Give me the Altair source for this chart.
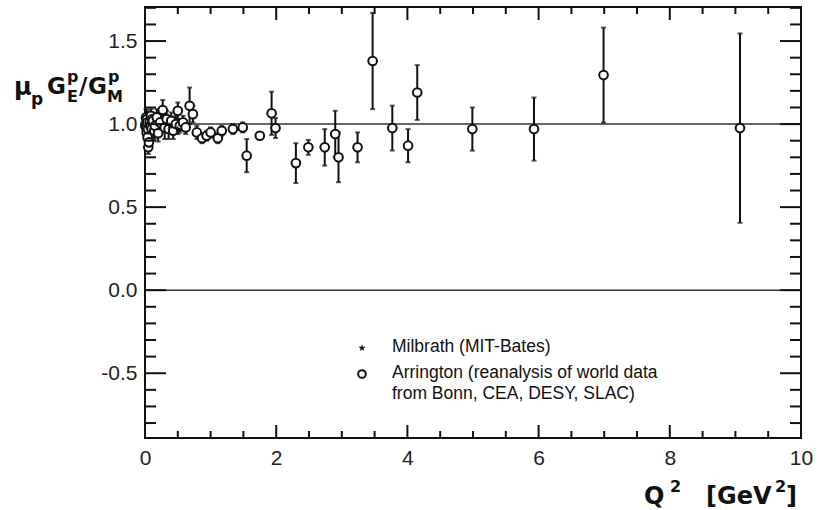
import altair as alt
import pandas as pd

# ---------------- data ----------------
# Arrington reanalysis (open circles): Q^2, ratio, error
arr_q2 = [0.005, 0.01, 0.015, 0.02, 0.025, 0.03, 0.035, 0.04, 0.045, 0.05, 0.06, 0.07,
          0.08, 0.09, 0.10, 0.11, 0.12, 0.14, 0.15, 0.18,
          0.20, 0.23, 0.27, 0.30, 0.33, 0.36, 0.40, 0.43, 0.47, 0.50, 0.53, 0.58,
          0.62, 0.68, 0.73, 0.79, 0.87, 0.94, 1.00, 1.11, 1.17, 1.34, 1.49, 1.55,
          1.75, 1.93, 1.99, 2.30, 2.49, 2.74, 2.90, 2.95, 3.24, 3.47, 3.77, 4.01,
          4.15, 4.99, 5.93, 6.99, 9.07]
arr_r = [0.99, 1.00, 1.04, 0.98, 0.95, 1.03, 1.01, 0.92, 0.97, 0.86, 0.89, 1.01,
         0.99, 1.05, 0.97, 1.03, 1.02, 0.96, 0.99, 1.04,
         0.945, 1.01, 1.085, 0.98, 1.03, 0.97, 1.02, 0.96, 1.00, 1.08, 0.99, 1.01,
         0.98, 1.11, 1.06, 0.95, 0.915, 0.93, 0.95, 0.915, 0.96, 0.97, 0.98, 0.81,
         0.93, 1.065, 0.976, 0.765, 0.86, 0.86, 0.94, 0.80, 0.86, 1.38, 0.976, 0.87,
         1.19, 0.97, 0.97, 1.295, 0.976]
arr_err = [0.04, 0.03, 0.05, 0.04, 0.06, 0.05, 0.04, 0.05, 0.04, 0.04, 0.04, 0.03,
           0.05, 0.04, 0.05, 0.04, 0.04, 0.05, 0.03, 0.05,
           0.05, 0.04, 0.06, 0.07, 0.05, 0.06, 0.05, 0.05, 0.05, 0.05, 0.04, 0.04,
           0.04, 0.11, 0.05, 0.04, 0.03, 0.03, 0.03, 0.03, 0.03, 0.03, 0.03, 0.10,
           0.02, 0.13, 0.06, 0.12, 0.045, 0.11, 0.14, 0.15, 0.09, 0.29, 0.135, 0.10,
           0.165, 0.13, 0.19, 0.286, 0.57]

# Milbrath (MIT-Bates) stars
mil_q2 = [0.38, 0.50]
mil_r = [0.99, 0.97]
mil_err = [0.03, 0.03]

# reference lines
ref_lines = [0.0, 1.0]

# axis ticks
x_major = [0, 2, 4, 6, 8, 10]
x_minor = [0.5, 1.0, 1.5, 2.5, 3.0, 3.5, 4.5, 5.0, 5.5, 6.5, 7.0, 7.5, 8.5, 9.0, 9.5]
y_major = [-0.5, 0.0, 0.5, 1.0, 1.5]
y_minor = [-0.8, -0.7, -0.6, -0.4, -0.3, -0.2, -0.1, 0.1, 0.2, 0.3, 0.4, 0.6, 0.7,
           0.8, 0.9, 1.1, 1.2, 1.3, 1.4, 1.6, 1.7]

# ---------------- layout ----------------
W, H = 656, 431
PL, PT = 145, 7

xs = alt.Scale(domain=[0, 10], nice=False, zero=False)
ys = alt.Scale(domain=[-0.89, 1.705], nice=False, zero=False)

arr = pd.DataFrame({"q2": arr_q2, "r": arr_r, "e": arr_err})
arr["lo"] = arr["r"] - arr["e"]
arr["hi"] = arr["r"] + arr["e"]
mil = pd.DataFrame({"q2": mil_q2, "r": mil_r, "e": mil_err})
mil["lo"] = mil["r"] - mil["e"]
mil["hi"] = mil["r"] + mil["e"]
allpts = pd.concat([arr, mil], ignore_index=True)

STAR = ("M0,-1L0.235,-0.324L0.951,-0.309L0.38,0.124L0.588,0.809L0,0.4L-0.588,0.809"
        "L-0.38,0.124L-0.951,-0.309L-0.235,-0.324Z")

TICKFONT = "Liberation Sans"
TITLEFONT = "DejaVu Sans"

xaxis = alt.Axis(values=x_major, ticks=False, domain=False, grid=False, labelFontSize=21,
                 labelFont=TICKFONT, labelColor="#222", labelPadding=9, title=None,
                 labelFlush=False, format="d")
yaxis = alt.Axis(values=y_major, ticks=False, domain=False, grid=False, labelFontSize=21,
                 labelFont=TICKFONT, labelColor="#222", labelPadding=8, title=None,
                 labelExpr="replace(format(datum.value, '.1f'), '\u2212', '-')")

hl = alt.Chart(pd.DataFrame({"y": ref_lines})).mark_rule(color="#333", strokeWidth=1.5).encode(
    y=alt.Y("y:Q", scale=ys, axis=yaxis), x=alt.value(0), x2=alt.value(W))

bars = alt.Chart(allpts).mark_rule(color="#111", strokeWidth=2).encode(
    x=alt.X("q2:Q", scale=xs, axis=xaxis),
    y=alt.Y("lo:Q", scale=ys),
    y2="hi:Q")

caps = alt.Chart(allpts).transform_fold(["lo", "hi"], as_=["k", "v"]).mark_tick(
    color="#111", orient="horizontal", size=5, thickness=2).encode(
    x=alt.X("q2:Q", scale=xs), y=alt.Y("v:Q", scale=ys))

circ = alt.Chart(arr).mark_point(shape="circle", filled=True, fill="white", stroke="#111",
                                 strokeWidth=2, size=75, opacity=1).encode(
    x=alt.X("q2:Q", scale=xs), y=alt.Y("r:Q", scale=ys))

stars = alt.Chart(mil).mark_point(shape=STAR, filled=True, color="#111", size=60, opacity=1).encode(
    x=alt.X("q2:Q", scale=xs), y=alt.Y("r:Q", scale=ys))


def yticks(vals, x0, x1):
    return alt.Chart(pd.DataFrame({"v": vals})).mark_rule(color="#111", strokeWidth=2).encode(
        y=alt.Y("v:Q", scale=ys), x=alt.value(x0), x2=alt.value(x1))


def xticks(vals, y0, y1):
    return alt.Chart(pd.DataFrame({"v": vals})).mark_rule(color="#111", strokeWidth=2).encode(
        x=alt.X("v:Q", scale=xs), y=alt.value(y0), y2=alt.value(y1))


tick_layers = [
    yticks(y_major, 0, 21), yticks(y_minor, 0, 11),
    yticks(y_major, W - 21, W), yticks(y_minor, W - 11, W),
    xticks(x_major, H - 13, H), xticks(x_minor, H - 7, H),
    xticks(x_major, 0, 13), xticks(x_minor, 0, 7),
]

one = pd.DataFrame({"a": [0]})


def txt(s, ax, ay, size, bold=True, font=TITLEFONT, baseline="alphabetic"):
    return alt.Chart(one).mark_text(
        text=s, align="left", baseline=baseline, fontSize=size, font=font,
        fontWeight="bold" if bold else "normal", color="#111").encode(
        x=alt.value(ax - PL), y=alt.value(ay - PT))


title_layers = [
    # y title: mu_p G_E^p / G_M^p
    txt("\u03bc", 14, 95, 24),
    txt("p", 31, 105, 17),
    txt("G", 47, 94, 23),
    txt("p", 67, 82, 16),
    txt("E", 67, 102, 16),
    txt("/", 79, 94, 23),
    txt("G", 88, 94, 23),
    txt("p", 108, 82, 16),
    txt("M", 107, 102, 16),
    # x title: Q^2 [GeV^2]
    txt("Q", 644, 504, 24),
    txt("2", 670, 492, 16),
    txt("[GeV", 706, 504, 24),
    txt("2", 775, 492, 16),
    txt("]", 786, 504, 24),
    # legend
    txt("Milbrath (MIT-Bates)", 392, 347, 17.5, bold=False, font="Liberation Sans", baseline="middle"),
    txt("Arrington (reanalysis of world data", 392, 373, 17.5, bold=False, font="Liberation Sans", baseline="middle"),
    txt("from Bonn, CEA, DESY, SLAC)", 392, 394, 17.5, bold=False, font="Liberation Sans", baseline="middle"),
]

leg_star = alt.Chart(one).mark_point(shape=STAR, filled=True, color="#111", size=55, opacity=1).encode(
    x=alt.value(362 - PL), y=alt.value(348 - PT))
leg_circ = alt.Chart(one).mark_point(shape="circle", filled=True, fill="white", stroke="#111",
                                     strokeWidth=2, size=60, opacity=1).encode(
    x=alt.value(362 - PL), y=alt.value(374 - PT))

chart = alt.layer(hl, bars, caps, circ, stars, *tick_layers, *title_layers, leg_star, leg_circ).properties(
    width=W, height=H,
    autosize=alt.AutoSizeParams(type="none"),
    padding={"left": PL, "top": PT, "right": 828 - PL - W, "bottom": 510 - PT - H},
    background="white",
).configure_view(stroke="#111", strokeWidth=2)

chart.save("out.html", embed_options={"renderer": "svg", "actions": False})
